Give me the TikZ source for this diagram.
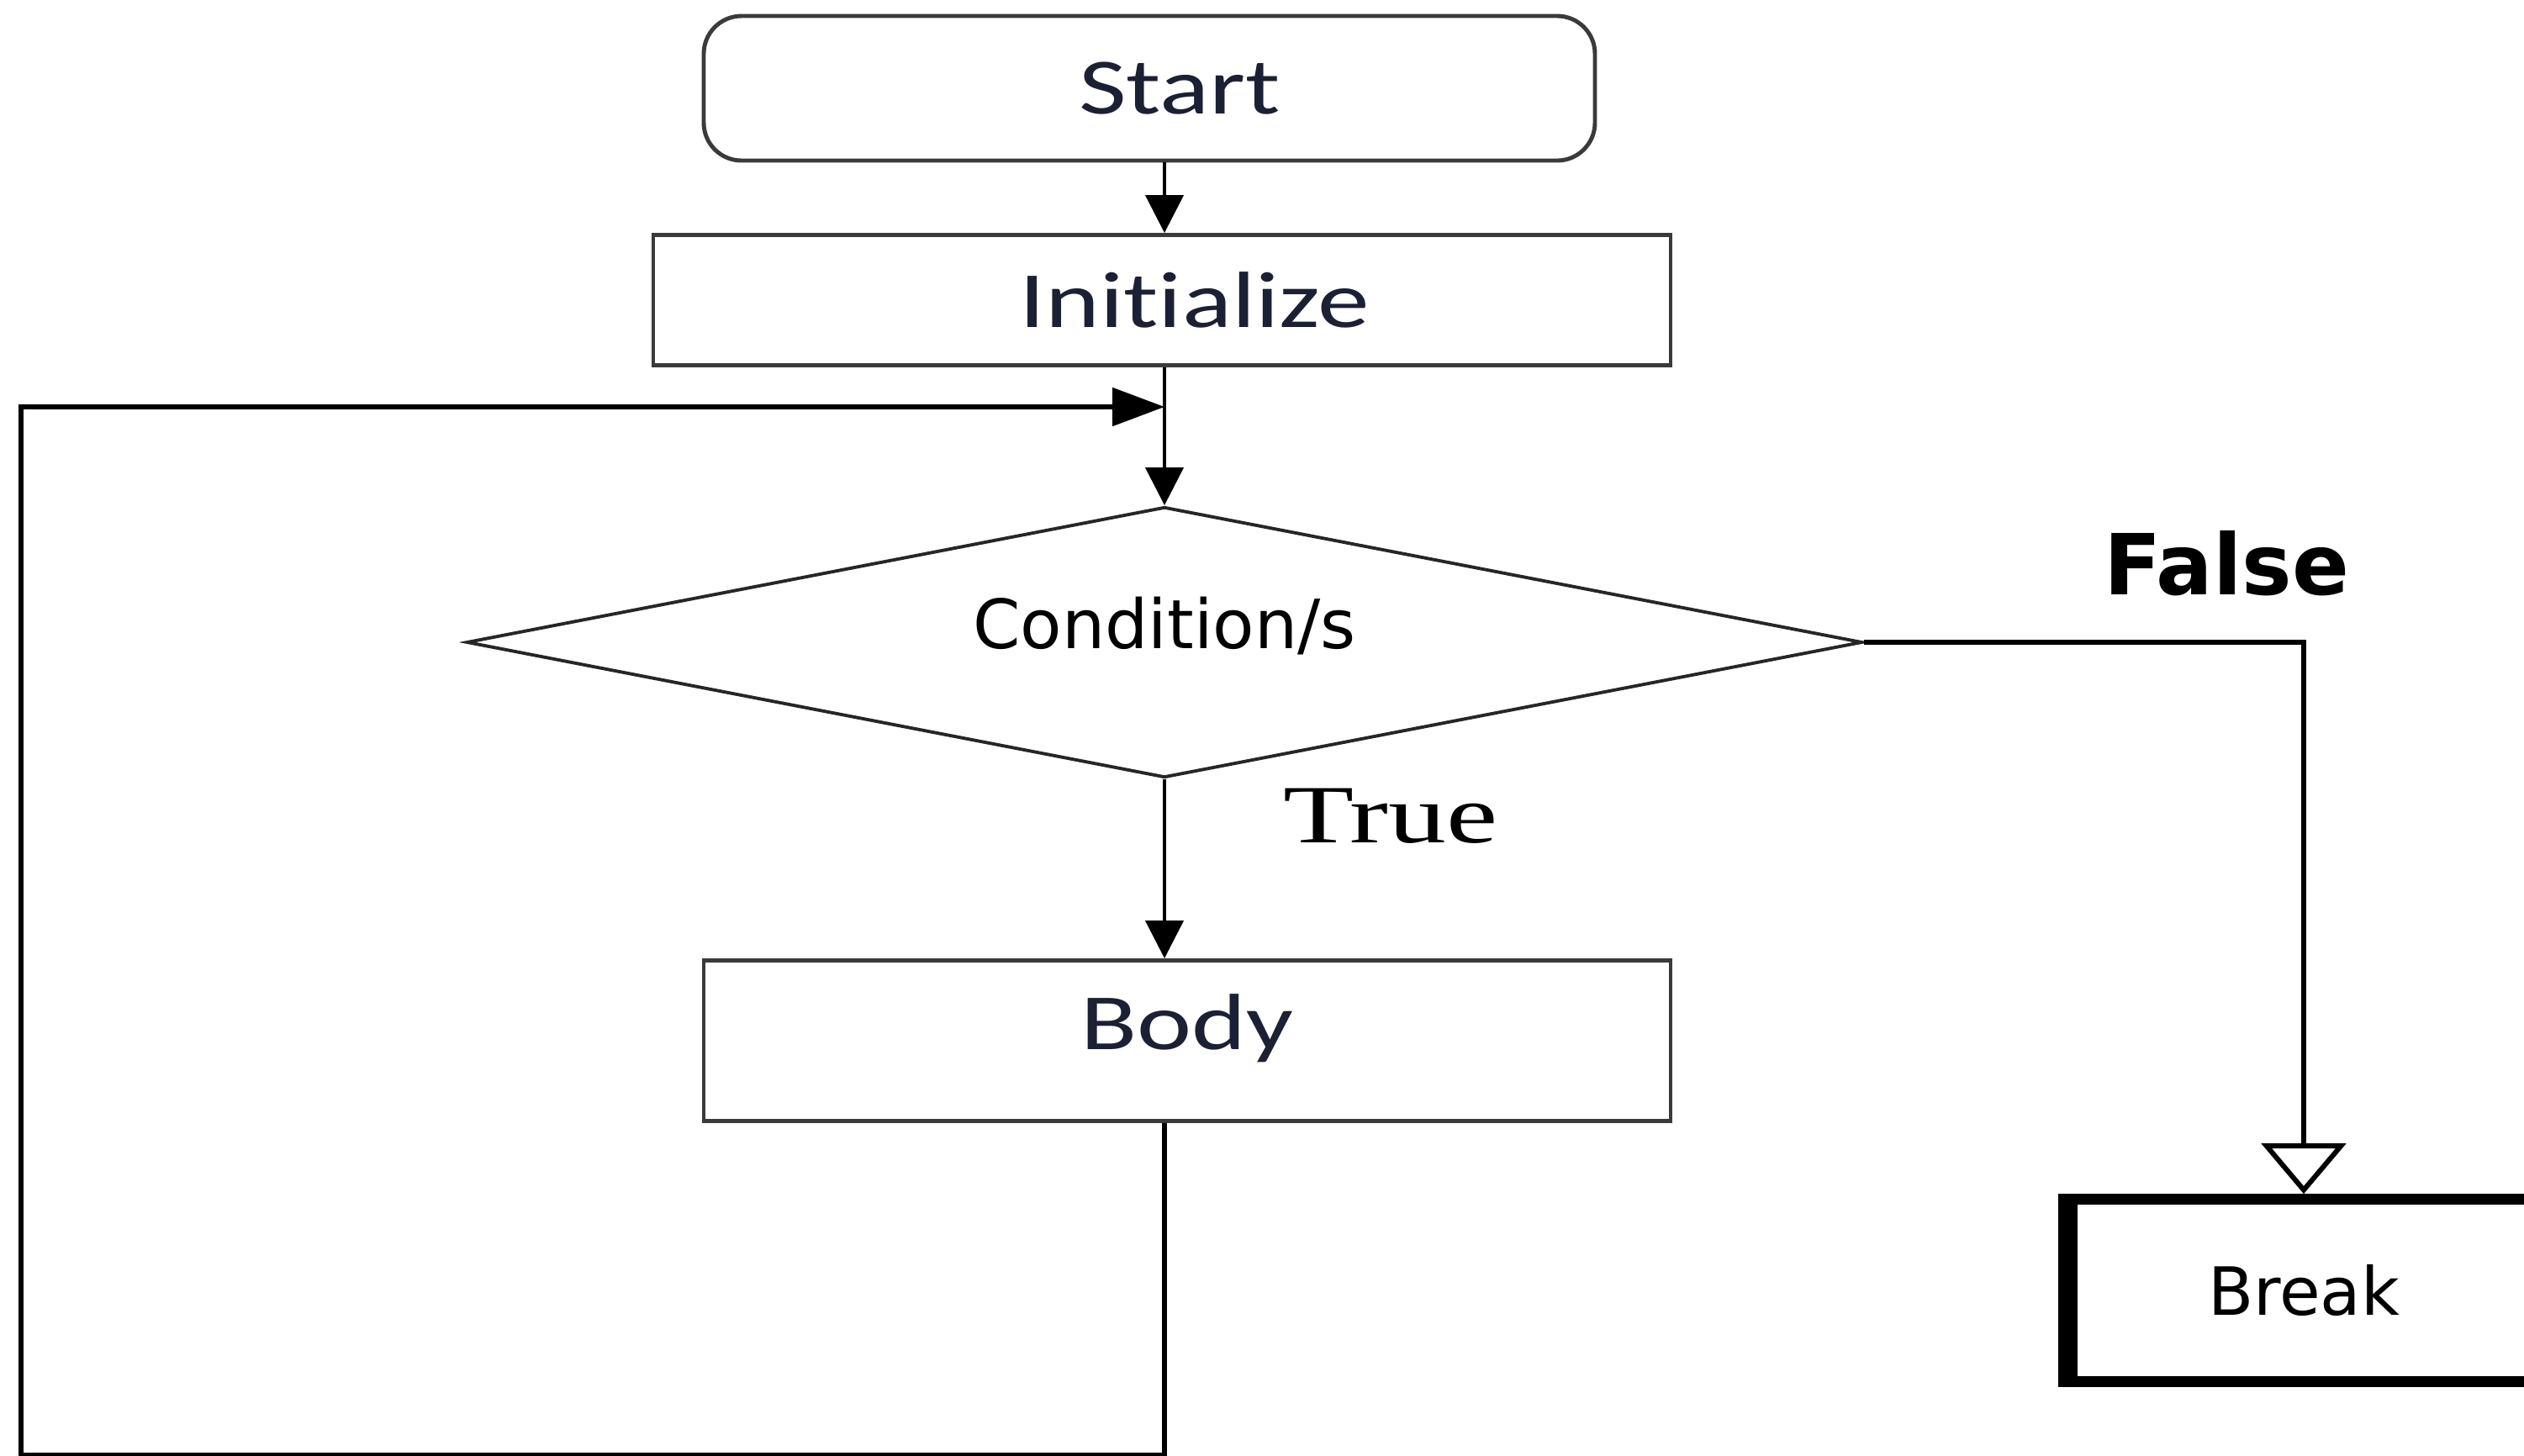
\documentclass[tikz,border=0pt]{standalone}
\usepackage{fontspec}
\setmainfont{DejaVu Sans}
\newfontfamily\boxfont[FakeStretch=1.3, Ligatures=NoCommon]{Carlito}
\newfontfamily\labfont[FakeStretch=1.4]{Liberation Serif}
\usetikzlibrary{positioning, arrows.meta, shapes.geometric}
\definecolor{boxLine}{RGB}{58, 58, 58}
\definecolor{boxText}{RGB}{28, 32, 52}

\tikzset{
  stepbox/.style={draw=boxLine, line width=1.4pt, inner sep=0pt,
    font=\boxfont\fontsize{27}{30}\selectfont, text=boxText},
  termbox/.style={stepbox, rounded corners=0.45cm},
  decision/.style={draw=black!85, diamond, aspect=5.2, line width=1.1pt, inner sep=0pt,
    minimum width=16.6cm, minimum height=3.22cm,
    font=\fontsize{23}{26}\selectfont},
  brkbox/.style={draw=black, line width=3.6pt, inner sep=0pt,
    minimum width=5.5cm, minimum height=2.17cm,
    font=\fontsize{22.5}{25}\selectfont}
}

\begin{document}
\begin{tikzpicture}[>={Triangle[length=0.45cm, width=0.45cm]}, line width=1.2pt]
  \useasboundingbox (0,0) rectangle (30.02,-17.31);

  % main column
  \node[termbox, minimum width=10.6cm, minimum height=1.72cm] (start) at (13.67,-1.05) {\hspace*{0.72cm}Start};
  \node[stepbox, minimum width=12.1cm, minimum height=1.55cm] (init) at (13.82,-3.57) {\hspace*{0.78cm}Initialize};
  \node[decision] (cond) at (13.85,-7.64) {\raisebox{0.46cm}{Condition/s}};
  \node[stepbox, minimum width=11.5cm, minimum height=1.91cm] (body) at (14.12,-12.38) {\raisebox{0.45cm}{Body}};
  \node[brkbox] (brk) at (27.40,-15.35) {Break};
  \draw[line width=6pt] (brk.north west) -- (brk.south west);

  \node[font=\labfont\fontsize{28}{30}\selectfont] (truelab) at (16.54,-9.71) {True};
  \node[font=\bfseries\fontsize{28.5}{30}\selectfont] (falselab) at (26.48,-6.70) {False};

  % loop back
  \coordinate (join) at (13.85,-4.84);
  \coordinate (back) at (0.25,-4.84);
  \coordinate (low) at (0.25,-17.31);

  \draw[->] (start.south -| join) -- (init.north -| join);
  \draw[->] (init.south -| join) -- (cond.north);
  \draw[->] (cond.south) -- (body.north -| cond.south);
  \draw[line width=1.5pt, -{Triangle[length=0.62cm, width=0.45cm]}]
    (body.south -| join) |- (low) -- (back) -- (join);
  \draw[line width=1.7pt, -{Triangle[open, length=0.6cm, width=1.0cm]}]
    (cond.east) -| (brk.north);
\end{tikzpicture}
\end{document}
